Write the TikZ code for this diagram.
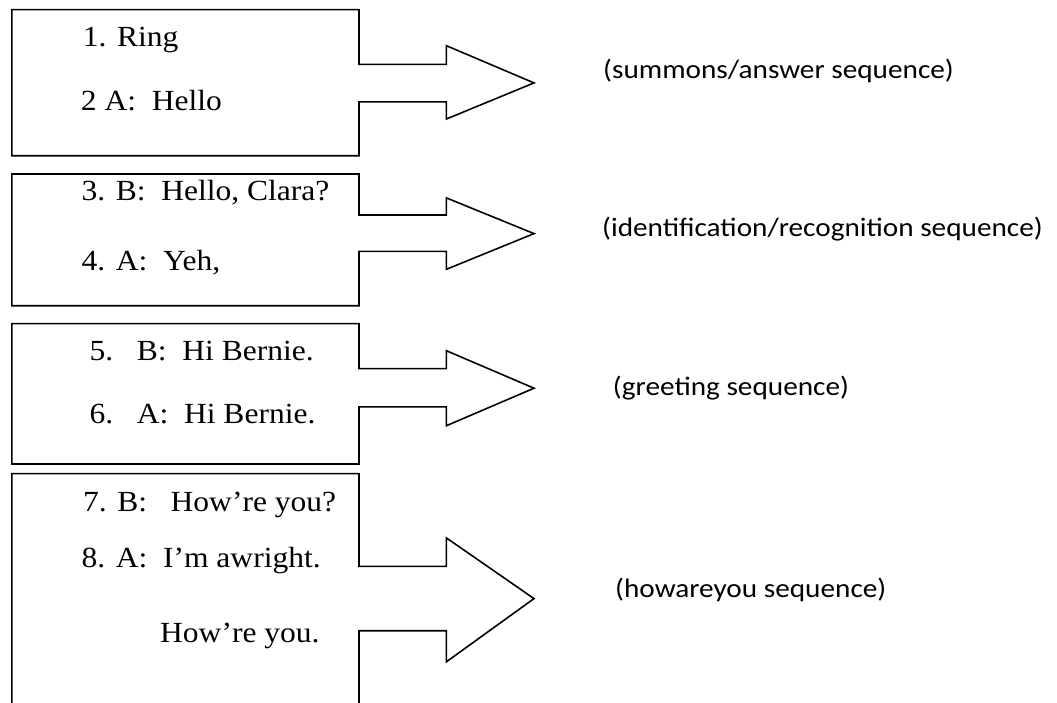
\documentclass[tikz,border=0pt]{standalone}
\usepackage{fontspec}
\newfontfamily\tnr[FakeStretch=1.08]{Liberation Serif}
\newfontfamily\lbl[FakeStretch=1.1]{Carlito}
\tikzset{
  outline/.style={line width=1.6pt, line join=miter},
  turn/.style={font=\tnr\fontsize{29.2}{31}\selectfont, anchor=base west, inner sep=0pt},
  seqlabel/.style={font=\lbl\fontsize{26.6}{28}\selectfont, anchor=base west, inner sep=0pt}
}
\begin{document}
\begin{tikzpicture}[x=1pt,y=-1pt]
\useasboundingbox (0,0) rectangle (1057,702);
% callout 1
\draw[outline] (11.8,9.6) -- (359,9.6) -- (359,64.3) -- (446.4,64.3) -- (446.4,45.7)
  -- (534,82.9) -- (446.4,119) -- (446.4,101.8) -- (359,101.8) -- (359,155.7)
  -- (11.8,155.7) -- cycle;
% callout 2
\draw[outline] (11.8,174) -- (359,174) -- (359,215) -- (446.4,215) -- (446.4,197.9)
  -- (534,233.6) -- (446.4,269.3) -- (446.4,251.4) -- (359,251.4) -- (359,305.7)
  -- (11.8,305.7) -- cycle;
% callout 3
\draw[outline] (11.8,323.6) -- (359,323.6) -- (359,368.6) -- (446.4,368.6) -- (446.4,350.7)
  -- (534,388.2) -- (446.4,425.7) -- (446.4,406.8) -- (359,406.8) -- (359,464)
  -- (11.8,464) -- cycle;
% callout 4 (open at the bottom)
\draw[outline] (11.8,704) -- (11.8,473.6) -- (359,473.6) -- (359,566.4) -- (446.4,566.4)
  -- (446.4,537.9) -- (534,598.6) -- (446.4,661.8) -- (446.4,630.7) -- (359,630.7)
  -- (359,704);
% turns
\node[turn] (t1) at (82.7,46) {1. Ring};
\node[turn] (t2) at (80.7,110.7) {2 A:\ \ Hello};
\node[turn] (t3) at (81.4,200) {3. B:\ \ Hello, Clara?};
\node[turn] (t4) at (81.4,270) {4. A:\ \ Yeh,};
\node[turn] (t5) at (89.3,360.4) {5.\ \ \ B:\ \ Hi Bernie.};
\node[turn] (t6) at (89.3,423.6) {6.\ \ \ A:\ \ Hi Bernie.};
\node[turn] (t7) at (82.9,511.8) {7. B:\ \ \ How’re you?};
\node[turn] (t8) at (81.4,567) {8. A:\ \ I’m awright.};
\node[turn] (t9) at (160,642.7) {How’re you.};
% sequence labels
\node[seqlabel] (s1) at (603,78) {(summons/answer sequence)};
\node[seqlabel] (s2) at (602,236) {(identification/recognition sequence)};
\node[seqlabel] (s3) at (612.7,395) {(greeting sequence)};
\node[seqlabel] (s4) at (615,597.7) {(howareyou sequence)};
\end{tikzpicture}
\end{document}
